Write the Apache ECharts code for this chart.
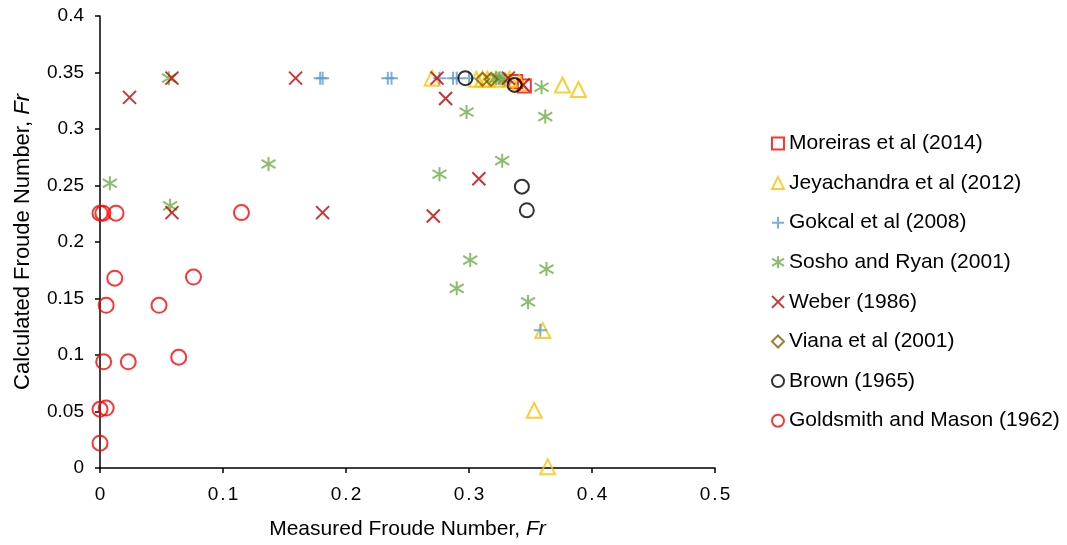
<!DOCTYPE html>
<html>
<head>
<meta charset="utf-8">
<script src="https://cdn.jsdelivr.net/npm/echarts@6/dist/echarts.min.js"></script>
<style>
  html, body { margin: 0; padding: 0; background: #fff; }
  #chart { width: 1067px; height: 545px; }
</style>
</head>
<body>
<div id="chart"></div>
<script>
// measured vs calculated Froude number
const moreiras = [[0.338, 0.342], [0.345, 0.338]];
const jeyachandra = [
  [0.27, 0.345], [0.306, 0.344], [0.311, 0.344], [0.315, 0.344], [0.322, 0.344],
  [0.333, 0.344], [0.341, 0.341], [0.376, 0.339], [0.389, 0.335],
  [0.36, 0.1216], [0.353, 0.051], [0.364, 0.001],
];
const gokcal = [
  [0.179, 0.345], [0.181, 0.345], [0.234, 0.345], [0.237, 0.345], [0.276, 0.345],
  [0.287, 0.345], [0.29, 0.345], [0.3, 0.345], [0.324, 0.345], [0.358, 0.122],
];
const sosho = [
  [0.056, 0.345], [0.008, 0.252], [0.137, 0.269], [0.057, 0.232], [0.276, 0.26],
  [0.298, 0.315], [0.327, 0.272], [0.301, 0.184], [0.29, 0.159], [0.363, 0.176],
  [0.348, 0.147], [0.359, 0.337], [0.362, 0.311], [0.322, 0.345], [0.325, 0.345],
  [0.329, 0.344],
];
const weber = [
  [0.0585, 0.345], [0.024, 0.328], [0.159, 0.345], [0.0585, 0.226], [0.181, 0.226],
  [0.271, 0.223], [0.281, 0.327], [0.308, 0.256], [0.274, 0.345], [0.332, 0.345],
  [0.344, 0.339],
];
const viana = [[0.311, 0.344], [0.318, 0.344]];
const brown = [[0.297, 0.345], [0.337, 0.339], [0.343, 0.249], [0.347, 0.228]];
const goldsmith = [
  [0.0, 0.2255], [0.0024, 0.2255], [0.013, 0.2255], [0.115, 0.226], [0.012, 0.168],
  [0.076, 0.169], [0.005, 0.144], [0.048, 0.144], [0.003, 0.094], [0.023, 0.094],
  [0.064, 0.098], [0.0, 0.052], [0.005, 0.053], [0.0, 0.022],
];

const seriesNames = [
  "Moreiras et al (2014)",
  "Jeyachandra et al (2012)",
  "Gokcal et al (2008)",
  "Sosho and Ryan (2001)",
  "Weber (1986)",
  "Viana et al (2001)",
  "Brown (1965)",
  "Goldsmith and Mason (1962)",
];
const xTicks = ["0", "0.1", "0.2", "0.3", "0.4", "0.5"];
const yTicks = ["0", "0.05", "0.1", "0.15", "0.2", "0.25", "0.3", "0.35", "0.4"];

const PLUS = "path://M0,5L10,5M5,0L5,10";
const CROSS = "path://M0,0L10,10M10,0L0,10";
const STAR = "path://M5,0L5,10M0,2L10,8M10,2L0,8";
const FONT = "Liberation Sans";

function hollow(name, data, symbol, color, size) {
  return {
    name: name,
    type: "scatter",
    data: data,
    symbol: symbol,
    symbolSize: size,
    itemStyle: { color: "rgba(255,255,255,0)", borderColor: color, borderWidth: 2 },
  };
}
function lines(name, data, symbol, color, size) {
  return {
    name: name,
    type: "scatter",
    data: data,
    symbol: symbol,
    symbolSize: size,
    symbolKeepAspect: true,
    itemStyle: { color: color, borderColor: color, borderWidth: 2 },
  };
}

// excel spreads the x tick digits out a little
function spacedTick(v) {
  const s = xTicks[Math.round(v * 10)] || "";
  if (s.length < 2) return s;
  return s.split("").map((c) => (c === "." ? "{p|.}" : "{d|" + c + "}")).join("");
}

function titleStyle(size) {
  return {
    fontSize: size,
    color: "#000",
    fontFamily: FONT,
    rich: { i: { fontStyle: "italic", fontSize: size, color: "#000", fontFamily: FONT } },
  };
}

const chart = echarts.init(document.getElementById("chart"));
const option = {
  animation: false,
  textStyle: { fontFamily: FONT },
  grid: { left: 100, right: 352, top: 16, bottom: 75 },
  xAxis: {
    type: "value",
    min: 0,
    max: 0.5,
    interval: 0.1,
    name: "Measured Froude Number, {i|Fr}",
    nameLocation: "middle",
    nameGap: 51,
    nameTextStyle: titleStyle(21),
    axisLine: { lineStyle: { color: "#000", width: 1.5 } },
    axisTick: { show: true, length: 5, lineStyle: { color: "#000", width: 1.5 } },
    axisLabel: {
      margin: 17,
      fontSize: 19,
      color: "#000",
      formatter: spacedTick,
      rich: {
        d: { fontSize: 19, color: "#000", fontFamily: FONT },
        p: { fontSize: 19, color: "#000", fontFamily: FONT, padding: [0, 2, 0, 2] },
      },
    },
    splitLine: { show: false },
  },
  yAxis: {
    type: "value",
    min: 0,
    max: 0.4,
    interval: 0.05,
    name: "Calculated Froude Number, {i|Fr}",
    nameLocation: "middle",
    nameGap: 66,
    nameTextStyle: titleStyle(22),
    axisLine: { show: true, lineStyle: { color: "#000", width: 1.5 } },
    axisTick: { show: true, length: 5, lineStyle: { color: "#000", width: 1.5 } },
    axisLabel: {
      margin: 16,
      fontSize: 19,
      color: "#000",
      formatter: (v) => yTicks[Math.round(v * 20)] || "",
    },
    splitLine: { show: false },
  },
  legend: {
    orient: "vertical",
    left: 766,
    top: 128,
    itemWidth: 12,
    itemHeight: 12,
    itemGap: 18.6,
    textStyle: { fontSize: 21, lineHeight: 20, color: "#000", padding: [0, 0, 0, 0] },
    data: seriesNames,
  },
  series: [
    hollow(seriesNames[0], moreiras, "rect", "#ff0000", 13),
    hollow(seriesNames[1], jeyachandra, "triangle", "#ffc000", 15),
    lines(seriesNames[2], gokcal, PLUS, "#5b9bd5", 13),
    lines(seriesNames[3], sosho, STAR, "#70ad47", 14),
    lines(seriesNames[4], weber, CROSS, "#c00000", 13),
    hollow(seriesNames[5], viana, "diamond", "#806000", 13),
    hollow(seriesNames[6], brown, "circle", "#000000", 14),
    hollow(seriesNames[7], goldsmith, "circle", "#ff0000", 15),
  ],
};
chart.setOption(option);
</script>
</body>
</html>
